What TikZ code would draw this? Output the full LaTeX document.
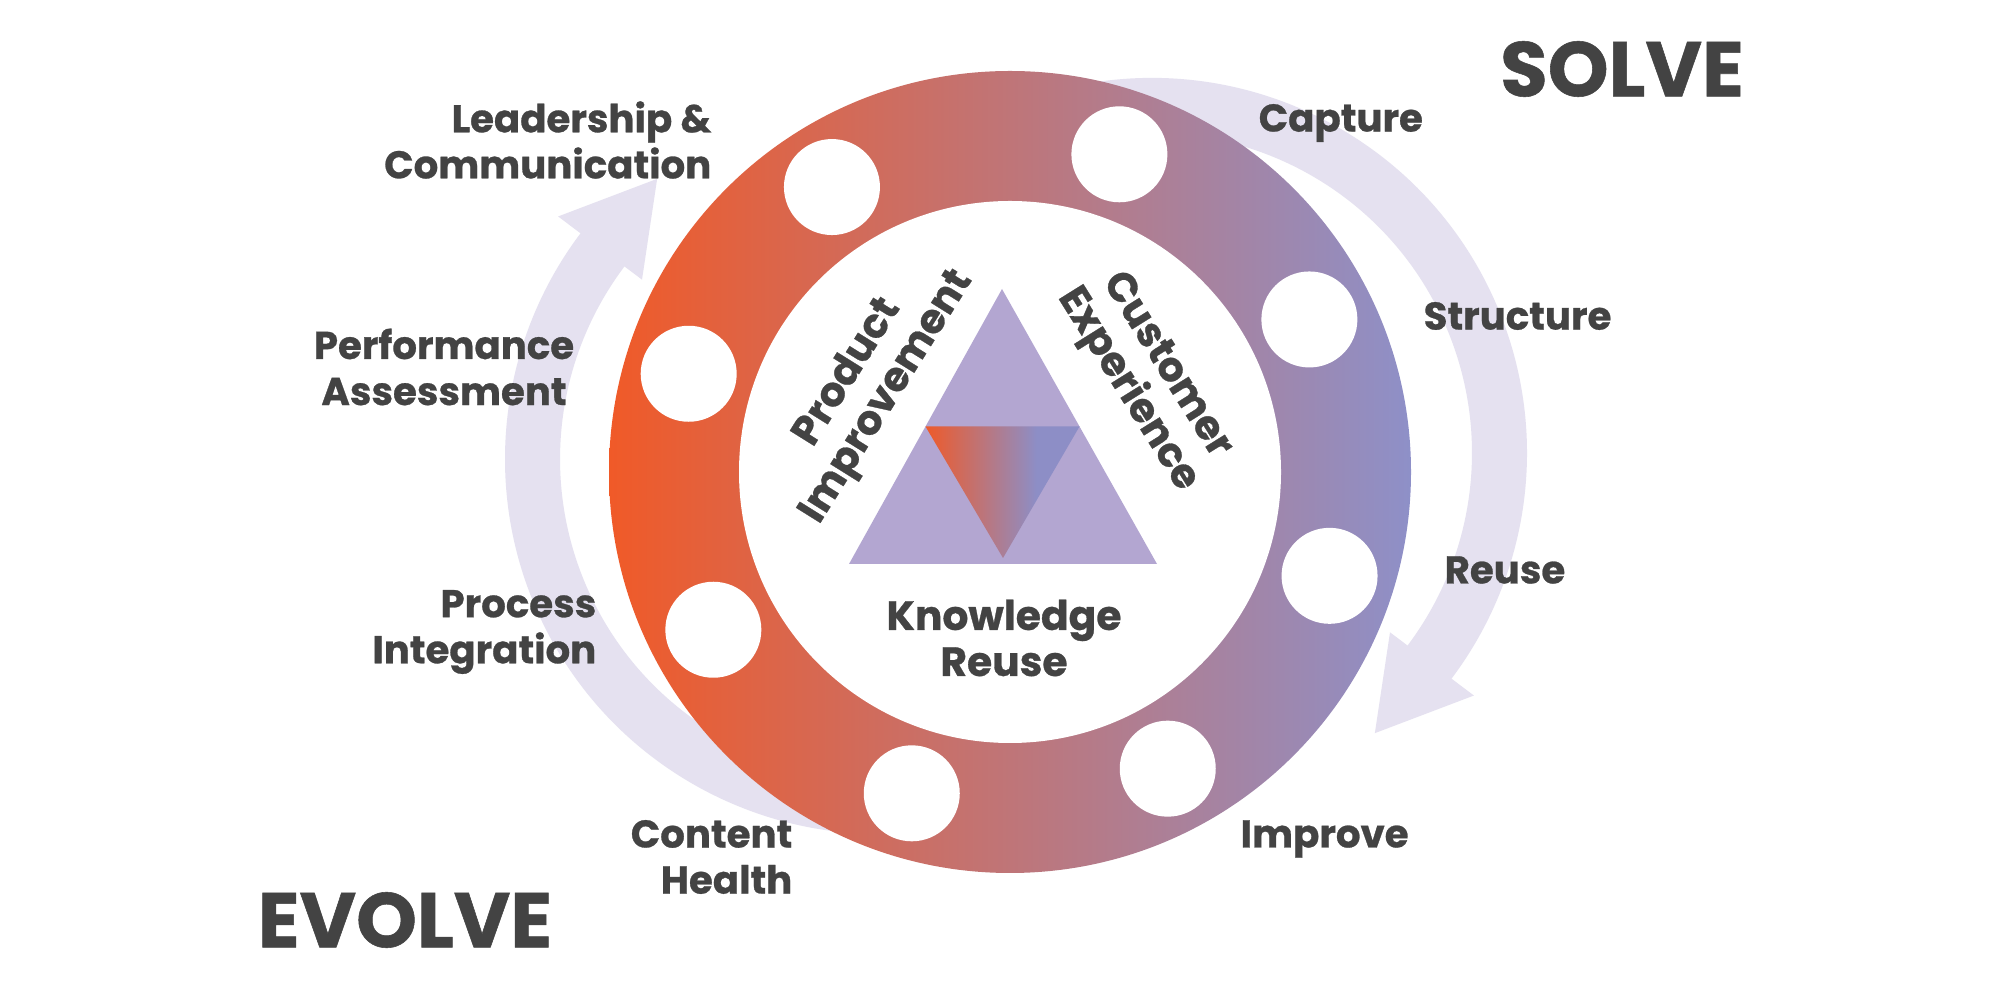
\documentclass[tikz,border=0pt]{standalone}
\usepackage{fontspec}
\setmainfont{Poppins}[BoldFeatures={FakeBold=0.7}]
\usetikzlibrary{calc}
\definecolor{ink}{HTML}{434343}
\definecolor{ringl}{HTML}{F05A28}
\definecolor{ringr}{HTML}{8E90C8}
\definecolor{bandc}{HTML}{E5E1F0}
\definecolor{tric}{HTML}{B3A6D1}
\definecolor{tril}{HTML}{EE5A2A}
\definecolor{trir}{HTML}{8D8EC6}
\pgfdeclarehorizontalshading{tripl}{100bp}{color(0bp)=(tril); color(25bp)=(tril); color(61bp)=(trir); color(100bp)=(trir)}
\newcommand{\lblfont}{\fontsize{11}{13.1}\selectfont\bfseries}
\newcommand{\midfont}{\fontsize{11.6}{13.1}\selectfont\bfseries}
\newcommand{\phasefont}{\fontsize{22}{26}\selectfont\bfseries}

\begin{document}
\begin{tikzpicture}[x=0.01cm, y=0.01cm,
  every node/.append style={text=ink, inner sep=0pt},
  lbl/.style={font=\lblfont, align=center},
  mid/.style={font=\midfont, align=center},
  phase/.style={font=\phasefont},
  band/.style={draw=bandc, line width=0.55cm},
  head/.style={fill=bandc},
  hole/.style={fill=white},
]
\fill[white] (0,0) rectangle (2000,1000);
\useasboundingbox (0,0) rectangle (2000,1000);
\coordinate (ctr) at (1010,528);
\coordinate (solvec) at (1152,547);
\coordinate (evolvec) at (880,541);
% solve arrow, clockwise round the right
\draw[band] ($(solvec)+(110:347.5)$) arc[start angle=110, end angle=-37.5, radius=347.5];
\fill[head] ($(solvec)+(-37:298)$) -- ($(solvec)+(-51.5:358)$) -- ($(solvec)+(-37:403)$) -- cycle;
% evolve arrow, clockwise round the left
\draw[band] ($(evolvec)+(-70:347.5)$) arc[start angle=-70, end angle=-217.5, radius=347.5];
\fill[head] ($(evolvec)+(143:298)$) -- ($(evolvec)+(128.5:358)$) -- ($(evolvec)+(143:403)$) -- cycle;
% ring with its eight holes
\shade[left color=ringl, right color=ringr] (ctr) circle[radius=401];
\fill[white] (ctr) circle[radius=271];
\foreach \a in {122,71,27,-18,-62,-107,-152,163} {
  \fill[hole] ($(ctr)+(\a:336)$) circle[radius=48];
}
% triangle in the middle
\coordinate (ta) at (1002,711);
\coordinate (tl) at (849,436);
\coordinate (tr) at (1157,436);
\fill[tric] (ta) -- (tl) -- (tr) -- cycle;
\shade[shading=tripl] ($(ta)!0.5!(tl)$) -- ($(ta)!0.5!(tr)$) -- ($(tl)!0.5!(tr)+(0,6)$) -- cycle;
\node[mid] (know) at (1004,362) {Knowledge\\Reuse};
\node[mid, rotate=58] (prod) at (868,615) {Product\\Improvement};
\node[mid, rotate=-58] (cust) at (1146,622) {Customer\\Experience};
% evolve side
\node[lbl, anchor=east, align=right] (lead) at (712,860) {Leadership \&\\Communication};
\node[lbl] (perf) at (444,633) {Performance\\Assessment};
\node[lbl, anchor=east, align=right] (proc) at (597,368) {Process\\Integration};
\node[lbl, anchor=east, align=right] (cont) at (793,143) {Content\\Health};
% solve side
\node[lbl, anchor=west] (capt) at (1258,877) {Capture};
\node[lbl, anchor=west] (struc) at (1423,684) {Structure};
\node[lbl, anchor=west] (reuse) at (1444,430) {Reuse};
\node[lbl, anchor=west] (impr) at (1240,161) {Improve};
\node[phase] (solve) at (1622,931) {SOLVE};
\node[phase] (evolve) at (405,80) {EVOLVE};
\end{tikzpicture}
\end{document}
